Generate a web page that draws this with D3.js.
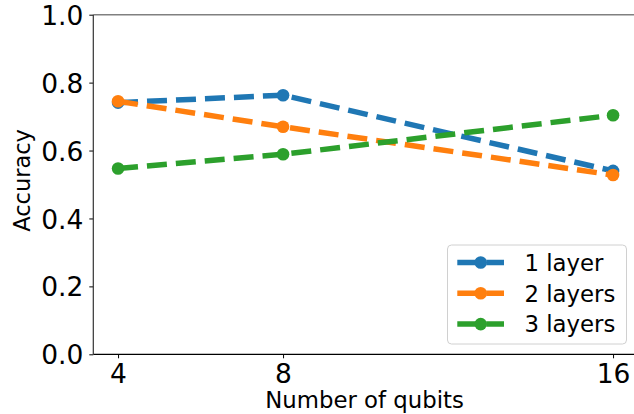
<!DOCTYPE html>
<html>
<head>
<meta charset="utf-8">
<script src="https://cdn.jsdelivr.net/npm/d3@7"></script>
<style>
html,body{margin:0;padding:0;background:#fff;}
svg{display:block;font-family:"DejaVu Sans",sans-serif;}
</style>
</head>
<body>
<svg id="chart" width="634" height="414"></svg>
<script>
const qubits = [4, 8, 16];
const seriesNames = ["1 layer", "2 layers", "3 layers"];
const oneLayer = [0.741, 0.763, 0.540];
const twoLayers = [0.745, 0.670, 0.528];
const threeLayers = [0.547, 0.589, 0.704];
const yTicks = [0.0, 0.2, 0.4, 0.6, 0.8, 1.0];
const colors = ["#1f77b4", "#ff7f0e", "#2ca02c"];

const series = [oneLayer, twoLayers, threeLayers].map((vals, i) => ({
  name: seriesNames[i], color: colors[i],
  points: qubits.map((q, j) => ({x: q, y: vals[j]}))
}));

const svg = d3.select("#chart");
const mLeft = 93.3, mRight = 637.8, mTop = 14.7, mBottom = 354.3;
const x = d3.scaleLinear().domain([3.4, 16.6]).range([mLeft, mRight]);
const y = d3.scaleLinear().domain([0, 1]).range([mBottom, mTop]);

// Axes
const xAxis = svg.append("g").attr("transform", `translate(0,${mBottom})`)
  .call(d3.axisBottom(x).tickValues(qubits).tickFormat(d3.format("d")).tickSize(4).tickPadding(6));
const yAxis = svg.append("g").attr("transform", `translate(${mLeft},0)`)
  .call(d3.axisLeft(y).tickValues(yTicks).tickFormat(d3.format(".1f")).tickSize(4).tickPadding(6));
[xAxis, yAxis].forEach(a => {
  a.select(".domain").remove();
  a.selectAll("line").attr("stroke", "#000").attr("stroke-width", 1);
  a.selectAll("text").attr("font-size", 26.5).attr("fill", "#000").attr("font-family", "DejaVu Sans");
});
yAxis.selectAll("text").attr("dy", "0.36em");

// spines
const sp = svg.append("g");
sp.append("line").attr("x1", mLeft).attr("x2", mRight).attr("y1", mBottom).attr("y2", mBottom)
  .attr("stroke", "#000").attr("stroke-width", 1.2);
sp.append("line").attr("x1", mLeft).attr("x2", mRight).attr("y1", mTop).attr("y2", mTop)
  .attr("stroke", "#808080").attr("stroke-width", 1.6);
sp.append("line").attr("x1", mLeft).attr("x2", mLeft).attr("y1", mTop).attr("y2", mBottom)
  .attr("stroke", "#333").attr("stroke-width", 1.2);

// Axis labels
svg.append("text").attr("x", (mLeft + mRight) / 2 - 1).attr("y", 408)
  .attr("text-anchor", "middle").attr("font-size", 22.8).text("Number of qubits");
svg.append("text").attr("transform", `translate(30,${(mTop + mBottom) / 2 - 4}) rotate(-90)`)
  .attr("text-anchor", "middle").attr("font-size", 22.5).text("Accuracy");

// Lines
const line = d3.line().x(d => x(d.x)).y(d => y(d.y));
series.forEach(s => {
  svg.append("path").datum(s.points).attr("d", line)
    .attr("fill", "none").attr("stroke", s.color).attr("stroke-width", 5.5)
    .attr("stroke-dasharray", "20,9");
  svg.selectAll(null).data(s.points).enter().append("circle")
    .attr("cx", d => x(d.x)).attr("cy", d => y(d.y)).attr("r", 6.3).attr("fill", s.color);
});

// Legend
const lg = svg.append("g");
lg.append("rect").attr("x", 447.5).attr("y", 245).attr("width", 179).attr("height", 99)
  .attr("rx", 4).attr("fill", "#fff").attr("fill-opacity", 0.8).attr("stroke", "#d0d0d0").attr("stroke-width", 1);
series.forEach((s, i) => {
  const cy = 262.5 + i * 30.8;
  lg.append("line").attr("x1", 457.3).attr("x2", 504).attr("y1", cy).attr("y2", cy)
    .attr("stroke", s.color).attr("stroke-width", 5.5).attr("stroke-dasharray", "20,9");
  lg.append("circle").attr("cx", 480.7).attr("cy", cy).attr("r", 6.3).attr("fill", s.color);
  lg.append("text").attr("x", 524.5).attr("y", cy).attr("dy", "0.36em")
    .attr("font-size", 22.8).text(s.name);
});
</script>
</body>
</html>
